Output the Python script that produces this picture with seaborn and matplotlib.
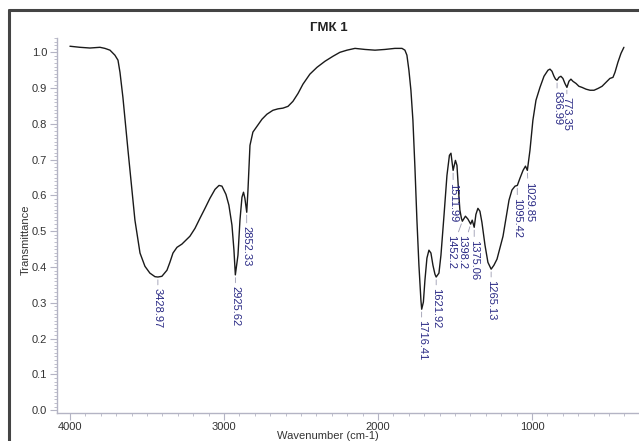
import numpy as np
import pandas as pd
import matplotlib
matplotlib.use("Agg")
import matplotlib.pyplot as plt
from matplotlib.ticker import MultipleLocator, FormatStrFormatter
from matplotlib.lines import Line2D
import seaborn as sns

# spectrum
wavenumber = [
    4000, 3935, 3870, 3805, 3773, 3740, 3708, 3688, 3675, 3656, 3623, 3591, 3578,
    3545, 3513, 3481, 3448, 3429, 3403, 3370, 3351, 3331, 3305, 3273, 3247, 3221,
    3188, 3156, 3123, 3091, 3058, 3032, 3013, 2987, 2968, 2948, 2935, 2926, 2909,
    2896, 2883, 2873, 2864, 2852, 2844, 2831, 2812, 2786, 2753, 2721, 2682, 2649,
    2617, 2584, 2552, 2519, 2487, 2442, 2396, 2344, 2292, 2247, 2201, 2149, 2084,
    2019, 1955, 1890, 1844, 1825, 1812, 1799, 1786, 1773, 1760, 1747, 1734, 1721,
    1716, 1705, 1695, 1682, 1669, 1656, 1643, 1630, 1622, 1604, 1591, 1571, 1552,
    1536, 1526, 1512, 1497, 1487, 1477, 1468, 1458, 1452, 1432, 1416, 1398, 1388,
    1375, 1364, 1351, 1338, 1325, 1305, 1286, 1265, 1247, 1227, 1208, 1188, 1169,
    1149, 1130, 1110, 1095, 1078, 1058, 1042, 1030, 1013, 994, 974, 948, 922, 896,
    883, 870, 857, 847, 837, 825, 812, 799, 786, 773, 760, 747, 734, 714, 695, 675,
    649, 623, 597, 571, 545, 519, 494, 474, 461, 442, 422, 403,
]
transmittance = [
    1.017, 1.014, 1.012, 1.014, 1.011, 1.006, 0.992, 0.978, 0.944, 0.874, 0.726, 0.587, 0.531,
    0.439, 0.402, 0.383, 0.373, 0.372, 0.374, 0.391, 0.413, 0.439, 0.455, 0.464, 0.475, 0.486,
    0.508, 0.536, 0.564, 0.592, 0.617, 0.628, 0.626, 0.603, 0.573, 0.517, 0.447, 0.378, 0.433,
    0.531, 0.595, 0.609, 0.592, 0.553, 0.615, 0.740, 0.777, 0.793, 0.813, 0.827, 0.838, 0.842,
    0.844, 0.849, 0.863, 0.885, 0.911, 0.939, 0.958, 0.975, 0.989, 1.000, 1.006, 1.011, 1.008,
    1.006, 1.008, 1.011, 1.011, 1.006, 0.992, 0.950, 0.894, 0.810, 0.679, 0.531, 0.405, 0.307,
    0.282, 0.302, 0.363, 0.425, 0.447, 0.439, 0.405, 0.380, 0.372, 0.383, 0.433, 0.545, 0.656,
    0.712, 0.718, 0.670, 0.698, 0.684, 0.615, 0.559, 0.536, 0.528, 0.542, 0.534, 0.520, 0.531,
    0.511, 0.547, 0.564, 0.556, 0.525, 0.461, 0.413, 0.394, 0.405, 0.422, 0.453, 0.486, 0.536,
    0.587, 0.615, 0.626, 0.628, 0.648, 0.670, 0.682, 0.670, 0.726, 0.810, 0.866, 0.902, 0.933, 0.950,
    0.953, 0.947, 0.933, 0.925, 0.922, 0.930, 0.933, 0.927, 0.913, 0.902, 0.919, 0.925, 0.919, 0.913, 0.905, 0.902,
    0.897, 0.894, 0.894, 0.899, 0.905, 0.916, 0.927, 0.930, 0.944, 0.972, 0.997, 1.014,
]

# peak labels
peak_labels = ["3428.97", "2925.62", "2852.33", "1716.41", "1621.92", "1511.99", "1452.2",
               "1398.2", "1375.06", "1265.13", "1095.42", "1029.85", "836.99", "773.35"]
peak_pos = [3428.97, 2925.62, 2852.33, 1716.41, 1621.92, 1511.99, 1452.2,
            1398.2, 1375.06, 1265.13, 1095.42, 1029.85, 836.99, 773.35]
peak_t = [0.372, 0.378, 0.553, 0.282, 0.372, 0.670, 0.528,
          0.520, 0.511, 0.394, 0.628, 0.670, 0.922, 0.902]
# label offsets in points (dx, dy)
peak_offsets = [(0, -8), (0, -8), (0, -10), (0, -8), (0, -8), (0, -9), (-8, -10),
                (-6, -8), (0, -9), (0, -8), (0, -9), (1, -8), (0, -8), (0, -7)]

df = pd.DataFrame({"wavenumber": wavenumber, "transmittance": transmittance})

sns.set_style("ticks")
plt.rcParams["font.family"] = ["Liberation Sans", "DejaVu Sans"]

fig = plt.figure(figsize=(6.39, 4.41), dpi=100)
ax = fig.add_axes([57 / 639, 1 - 413 / 441, 1 - 57 / 639, (413 - 38) / 441])

sns.lineplot(data=df, x="wavenumber", y="transmittance", sort=False,
             color="#1a1a1a", linewidth=1.0, ax=ax)

for lab, w, t, (dx, dy) in zip(peak_labels, peak_pos, peak_t, peak_offsets):
    ax.annotate(lab, xy=(w, t), xytext=(dx, dy), textcoords="offset points",
                rotation=270, ha="center", va="top", fontsize=8, color="#2a2a85",
                arrowprops=dict(arrowstyle="-", color="#9a9ab0", lw=0.6,
                                shrinkA=0, shrinkB=2))

ax.set_xlim(4084, 305)
ax.set_ylim(-0.008, 1.04)
ax.xaxis.set_major_locator(MultipleLocator(1000))
ax.xaxis.set_minor_locator(MultipleLocator(100))
ax.yaxis.set_major_locator(MultipleLocator(0.1))
ax.yaxis.set_minor_locator(MultipleLocator(0.01))
ax.yaxis.set_major_formatter(FormatStrFormatter("%.1f"))

axis_col = "#b4b4c4"
for side in ["top", "right"]:
    ax.spines[side].set_visible(False)
for side in ["left", "bottom"]:
    ax.spines[side].set_color(axis_col)
    ax.spines[side].set_linewidth(1.0)
ax.tick_params(which="major", length=5, width=0.8, color=axis_col, labelsize=8,
               labelcolor="#333333", pad=2)
ax.tick_params(axis="x", which="major", pad=1.5)
ax.tick_params(which="minor", length=2.5, width=0.6, color=axis_col)

ax.set_xlabel("Wavenumber (cm-1)", fontsize=8, color="#333333")
ax.set_ylabel("Transmittance", fontsize=8, color="#333333")
ax.xaxis.set_label_coords((328 - 57) / 582, (413 - 431) / 375)
ax.yaxis.set_label_coords((31 - 57) / 582, (413 - 240) / 375)

fig.text(329 / 639, 1 - 28 / 441, "ГМК 1", ha="center", va="center",
         fontsize=9.5, fontweight="bold", color="#222222")

# dark frame around the figure (cropped at right and bottom)
fig.add_artist(Line2D([9 / 639, 1.0], [1 - 10 / 441, 1 - 10 / 441],
                      transform=fig.transFigure, color="#444444", lw=2.2))
fig.add_artist(Line2D([9 / 639, 9 / 639], [0.0, 1 - 10 / 441],
                      transform=fig.transFigure, color="#444444", lw=2.2))

fig.savefig("out.png", dpi=100)
